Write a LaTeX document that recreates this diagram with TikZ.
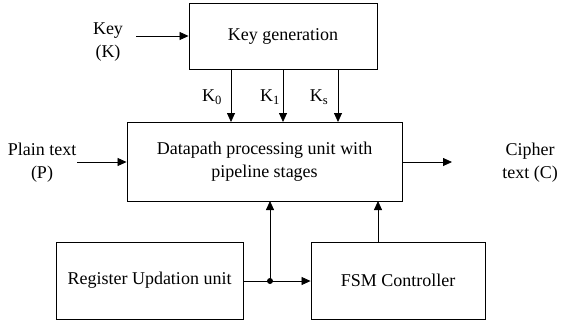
\documentclass[tikz,border=0pt]{standalone}
\usepackage{fontspec}
\setmainfont{Liberation Serif}
\usetikzlibrary{arrows.meta}
\begin{document}
\begin{tikzpicture}[x=1pt,y=-1pt,
  box/.style={draw,line width=0.9pt,inner sep=0pt},
  lbl/.style={font=\fontsize{18}{23}\selectfont,align=center,inner sep=0pt},
  arr/.style={line width=0.8pt,-{Triangle[length=9pt,width=8pt]}},
  ln/.style={line width=0.8pt}]
\useasboundingbox (0,0) rectangle (561,325);
\node[box,minimum width=188pt,minimum height=66pt] (kg) at (283,36) {};
\node[lbl] at (kg.center) {Key generation};
\node[box,minimum width=275pt,minimum height=79pt] (dp) at (264.5,161.5) {};
\node[lbl] at (dp.center) {Datapath processing unit with\\pipeline stages};
\node[box,minimum width=187pt,minimum height=77pt] (ru) at (149.5,280.5) {};
\node[lbl] at (ru.center) {Register Updation unit};
\node[box,minimum width=174pt,minimum height=77pt] (fsm) at (398,280.5) {};
\node[lbl] at (fsm.center) {FSM Controller};
\node[lbl] (key) at (108,42) {Key\\(K)};
\node[lbl] (pt) at (42,163) {Plain text\\(P)};
\node[lbl] (ct) at (530,163) {Cipher\\text (C)};
\coordinate (keyS) at (136,36);
\draw[arr] (keyS) -- (kg.west |- keyS);
\draw[arr] (77,162) -- (dp.west |- 0,162);
\draw[arr] (dp.east |- 0,162) -- (452,162);
\foreach \x/\s/\lx in {231/0/212,283/1/270,338/s/319} {
  \draw[arr] (\x,69) -- (\x,122);
  \node[lbl] at (\lx,97) {K$_{\mathrm{\s}}$};
}
\coordinate (j) at (270,281);
\draw[ln] (ru.east |- j) -- (j);
\draw[arr] (j) -- (fsm.west |- j);
\draw[arr] (j) -- (270,201);
\draw[arr] (378,242) -- (378,201);
\fill (j) circle (3pt);
\end{tikzpicture}
\end{document}
